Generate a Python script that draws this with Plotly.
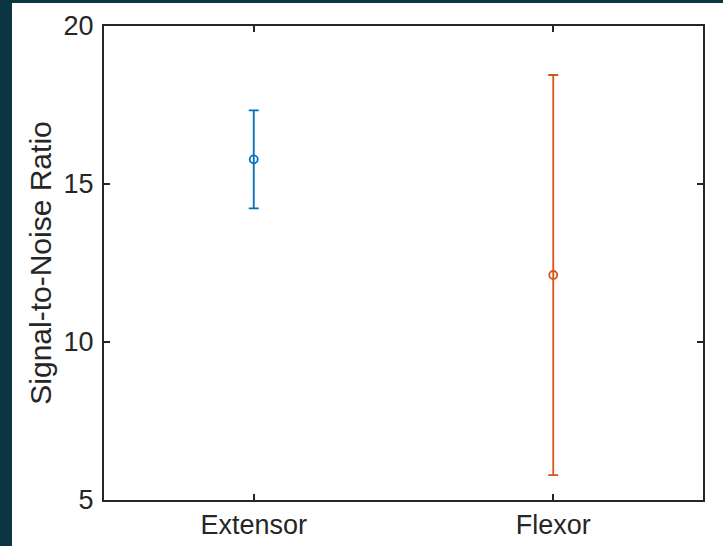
import plotly.graph_objects as go

categories = ["Extensor", "Flexor"]
cat_pos = [1, 2]
means = [15.78, 12.12]
errors = [1.55, 6.33]
colors = ["#0072BD", "#D95319"]
y_ticks = [5, 10, 15, 20]

W, H = 723, 546
ML, MR, MT, MB = 104, 20, 26, 46
pw, ph = W - ML - MR, H - MT - MB

fig = go.Figure()
for c, x, m, e, col in zip(categories, cat_pos, means, errors, colors):
    fig.add_trace(go.Scatter(
        x=[x], y=[m], mode="markers", name=c,
        marker=dict(symbol="circle-open", size=8, color=col, line=dict(width=1.8, color=col)),
        error_y=dict(type="data", array=[e], visible=True, color=col, thickness=1.8, width=5),
        showlegend=False,
    ))

# white figure panel over the dark teal page frame
fig.add_shape(type="rect", xref="paper", yref="paper",
              x0=(12 - ML) / pw, x1=(W + 10 - ML) / pw,
              y0=(H - MB - (H + 10)) / ph, y1=(H - MB - 3) / ph,
              fillcolor="white", line=dict(width=0), layer="below")

font = "Liberation Sans, Arial, Helvetica, sans-serif"
fig.update_layout(
    width=W, height=H,
    margin=dict(l=ML, r=MR, t=MT, b=MB),
    paper_bgcolor="#0b3540",
    plot_bgcolor="white",
    font=dict(family=font, size=27, color="#262626"),
    xaxis=dict(
        range=[0.5, 2.5], tickvals=cat_pos, ticktext=categories,
        ticks="inside", ticklen=6, tickwidth=1.5, tickcolor="#262626",
        showline=True, linecolor="#262626", linewidth=2, mirror="ticks",
        showgrid=False, zeroline=False, tickfont=dict(size=27),
        automargin=False,
    ),
    yaxis=dict(
        range=[5, 20], tickvals=y_ticks,
        ticks="inside", ticklen=6, tickwidth=1.5, tickcolor="#262626",
        showline=True, linecolor="#262626", linewidth=2, mirror="ticks",
        showgrid=False, zeroline=False, tickfont=dict(size=27),
        ticklabelstandoff=3, automargin=False,
        title=dict(text="Signal-to-Noise Ratio", font=dict(size=30), standoff=3),
    ),
)

fig.write_html("out.html", config={"displayModeBar": False},
               post_script="document.body.style.margin='0';document.body.style.background='#0b3540';")
